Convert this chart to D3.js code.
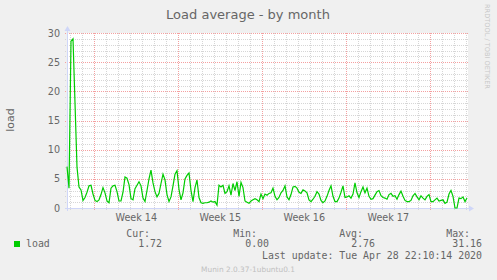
<!DOCTYPE html>
<html>
<head>
<meta charset="utf-8">
<script src="https://cdn.jsdelivr.net/npm/d3@7"></script>
<style>
  body { margin: 0; background: #f0f0f0; }
  svg { display: block; }
</style>
</head>
<body>
<div id="chart"></div>
<script>
const chartTitle = "Load average - by month";
const seriesName = "load";
const startTime = Date.UTC(2020, 2, 27, 17, 24);   // first sample
const stepHours = 4;
const spanHours = 800;                             // graph covers ~33 days

// load average, one value every 4 hours
const loadValues = [
  7.1, 3.4, 28.6, 29.0, 18.0, 7.0, 3.6, 3.1, 1.3, 1.8, 2.7, 3.8,
  3.9, 2.4, 1.3, 1.1, 1.4, 2.3, 3.5, 2.6, 1.2, 0.9, 3.4, 3.8,
  3.9, 2.8, 1.2, 1.2, 2.7, 5.3, 5.1, 4.0, 1.6, 1.4, 3.3, 3.9,
  4.5, 3.8, 1.7, 1.1, 3.0, 5.0, 6.5, 4.3, 2.8, 1.9, 2.5, 4.2,
  5.8, 4.8, 2.3, 1.1, 1.9, 3.8, 5.8, 6.4, 3.2, 1.4, 2.6, 5.0,
  5.6, 6.0, 3.0, 1.1, 3.5, 4.8, 1.8, 0.9, 0.8, 0.9, 0.9, 1.0,
  1.2, 1.0, 1.1, 0.5, 3.9, 3.6, 3.9, 2.5, 2.8, 3.8, 2.2, 4.2,
  3.0, 4.5, 2.0, 4.4, 3.5, 1.2, 1.0, 0.8, 1.2, 1.4, 1.6, 1.4,
  1.1, 2.4, 1.6, 2.4, 2.2, 2.5, 2.6, 3.4, 2.0, 1.4, 1.8, 2.6,
  3.0, 3.8, 1.9, 1.4, 2.3, 3.6, 3.7, 3.4, 2.7, 2.5, 3.1, 2.9,
  2.6, 1.4, 1.1, 1.5, 2.0, 2.8, 2.4, 1.3, 0.9, 1.2, 2.0, 3.0,
  3.8, 2.0, 1.1, 1.1, 1.7, 2.7, 3.8, 1.8, 1.9, 2.1, 1.7, 2.4,
  4.3, 2.6, 1.8, 2.8, 3.6, 2.6, 3.4, 2.0, 1.5, 1.6, 2.2, 2.8,
  3.0, 2.1, 1.8, 1.7, 1.5, 2.3, 2.5, 2.0, 2.1, 1.5, 2.3, 2.9,
  2.0, 1.3, 1.1, 1.1, 1.3, 2.1, 2.5, 1.9, 1.4, 2.1, 1.7, 1.4,
  2.0, 2.3, 1.1, 1.1, 1.4, 1.7, 1.2, 1.3, 1.4, 0.8, 1.0, 2.4,
  3.0, 2.0, 0.0, 0.0, 1.7, 1.6, 1.9, 1.1, 1.72
];

const yTicks = [0, 5, 10, 15, 20, 25, 30];
const weekStarts = [Date.UTC(2020, 2, 30), Date.UTC(2020, 3, 6), Date.UTC(2020, 3, 13), Date.UTC(2020, 3, 20)];
const weekLabels = ["Week 14", "Week 15", "Week 16", "Week 17"];
const statNames = ["Cur:", "Min:", "Avg:", "Max:"];
const statValues = ["1.72", "0.00", "2.76", "31.16"];
const lastUpdate = "Last update: Tue Apr 28 22:10:14 2020";
const footer = "Munin 2.0.37-1ubuntu0.1";
const sideText = "RRDTOOL / TOBI OETIKER";

const W = 497, H = 280;
const plot = { left: 67, right: 467, top: 33, bottom: 208 };
const fontColor = "#666666";
const axisColor = "#cfd6f8";
const lineColor = "#00cc00";

const svg = d3.select("#chart").append("svg")
    .attr("width", W)
    .attr("height", H)
    .style("font-family", "'DejaVu Sans', sans-serif");

svg.append("rect").attr("width", W).attr("height", H).attr("fill", "#f0f0f0");

const hour = 3600 * 1000;
const x = d3.scaleUtc()
    .domain([new Date(startTime), new Date(startTime + spanHours * hour)])
    .range([plot.left, plot.right]);
const y = d3.scaleLinear().domain([0, 30]).range([plot.bottom, plot.top]);

// canvas
svg.append("rect")
    .attr("x", plot.left).attr("y", plot.top)
    .attr("width", plot.right - plot.left + 1).attr("height", plot.bottom - plot.top)
    .attr("fill", "#ffffff");

const grid = svg.append("g").attr("shape-rendering", "crispEdges");
const px = v => Math.round(v) + 0.5;

// minor grid: every day and every unit of load
const days = d3.utcDay.range(x.domain()[0], x.domain()[1]);
grid.selectAll(".vmin").data(days.filter(d => d.getUTCDay() !== 1)).enter().append("line")
    .attr("x1", d => px(x(d))).attr("x2", d => px(x(d)))
    .attr("y1", plot.top).attr("y2", plot.bottom + 2)
    .attr("stroke", "#d6d6d6").attr("stroke-dasharray", "1,1");

const minorY = d3.range(1, 31).filter(v => v % 5 !== 0);
grid.selectAll(".hmin").data(minorY).enter().append("line")
    .attr("x1", plot.left - 2).attr("x2", plot.right + 1)
    .attr("y1", d => px(y(d))).attr("y2", d => px(y(d)))
    .attr("stroke", "#d6d6d6").attr("stroke-dasharray", "1,1");

// major grid: weeks and every 5
const mondays = d3.utcMonday.range(x.domain()[0], x.domain()[1]);
grid.selectAll(".vmaj").data(mondays).enter().append("line")
    .attr("x1", d => px(x(d))).attr("x2", d => px(x(d)))
    .attr("y1", plot.top).attr("y2", plot.bottom + 3)
    .attr("stroke", "#f4a0a0").attr("stroke-dasharray", "1,1");

grid.selectAll(".hmaj").data(yTicks.filter(v => v > 0)).enter().append("line")
    .attr("x1", plot.left - 2).attr("x2", plot.right + 1)
    .attr("y1", d => px(y(d))).attr("y2", d => px(y(d)))
    .attr("stroke", "#f4a0a0").attr("stroke-dasharray", "1,1");

// axes with arrows
const ax = svg.append("g").attr("shape-rendering", "crispEdges");
ax.append("line")
    .attr("x1", plot.left - 2).attr("x2", plot.right + 3)
    .attr("y1", px(plot.bottom)).attr("y2", px(plot.bottom))
    .attr("stroke", axisColor);
ax.append("line")
    .attr("x1", px(plot.left)).attr("x2", px(plot.left))
    .attr("y1", plot.bottom + 3).attr("y2", plot.top - 4)
    .attr("stroke", axisColor);
svg.append("path")
    .attr("d", `M${plot.right + 2},${plot.bottom - 2.5} L${plot.right + 7},${plot.bottom + 0.5} L${plot.right + 2},${plot.bottom + 3.5} Z`)
    .attr("fill", axisColor);
svg.append("path")
    .attr("d", `M${plot.left - 2.5},${plot.top - 2} L${plot.left + 0.5},${plot.top - 7} L${plot.left + 3.5},${plot.top - 2} Z`)
    .attr("fill", axisColor);

// y tick labels
svg.selectAll(".ylab").data(yTicks).enter().append("text")
    .attr("x", 60).attr("y", d => y(d) + 3.5)
    .attr("text-anchor", "end")
    .attr("font-size", "9.6px")
    .attr("fill", fontColor)
    .text(d => d);

// week labels centred in each week
svg.selectAll(".xlab").data(weekStarts).enter().append("text")
    .attr("x", d => x(new Date(d + 84 * hour)))
    .attr("y", 221)
    .attr("text-anchor", "middle")
    .attr("font-size", "9.6px")
    .attr("fill", fontColor)
    .text((d, i) => weekLabels[i]);

// the series
const line = d3.line()
    .x((d, i) => x(new Date(startTime + i * stepHours * hour)))
    .y(d => y(d));
svg.append("path")
    .datum(loadValues)
    .attr("d", line)
    .attr("fill", "none")
    .attr("stroke", lineColor)
    .attr("stroke-width", 1.2);

// title and labels
svg.append("text")
    .attr("x", 248).attr("y", 18.5)
    .attr("text-anchor", "middle")
    .attr("font-size", "13px")
    .attr("fill", fontColor)
    .text(chartTitle);

svg.append("text")
    .attr("transform", "translate(14,120) rotate(-90)")
    .attr("text-anchor", "middle")
    .attr("font-size", "11px")
    .attr("fill", fontColor)
    .text(seriesName);

svg.append("text")
    .attr("transform", "translate(485,4) rotate(90)")
    .attr("text-anchor", "start")
    .attr("font-size", "6.6px")
    .attr("fill", "#c8c8c8")
    .text(sideText);

// legend
const mono = "'DejaVu Sans Mono', monospace";
const statRight = [150, 257, 363, 470];
const valRight = [162, 269, 375, 482];

svg.append("rect")
    .attr("x", 14).attr("y", 241).attr("width", 6).attr("height", 6)
    .attr("fill", lineColor);
svg.append("text")
    .attr("x", 26).attr("y", 247)
    .attr("font-family", mono).attr("font-size", "9.9px")
    .attr("fill", fontColor)
    .text(seriesName);

svg.selectAll(".sname").data(statNames).enter().append("text")
    .attr("x", (d, i) => statRight[i]).attr("y", 236.5)
    .attr("text-anchor", "end")
    .attr("font-family", mono).attr("font-size", "9.9px")
    .attr("fill", fontColor)
    .text(d => d);

svg.selectAll(".sval").data(statValues).enter().append("text")
    .attr("x", (d, i) => valRight[i]).attr("y", 247)
    .attr("text-anchor", "end")
    .attr("font-family", mono).attr("font-size", "9.9px")
    .attr("fill", fontColor)
    .text(d => d);

svg.append("text")
    .attr("x", 482).attr("y", 259)
    .attr("text-anchor", "end")
    .attr("font-family", mono).attr("font-size", "9.9px")
    .attr("fill", fontColor)
    .text(lastUpdate);

svg.append("text")
    .attr("x", 248).attr("y", 271.5)
    .attr("text-anchor", "middle")
    .attr("font-size", "7.4px")
    .attr("fill", "#c0c0c0")
    .text(footer);
</script>
</body>
</html>
